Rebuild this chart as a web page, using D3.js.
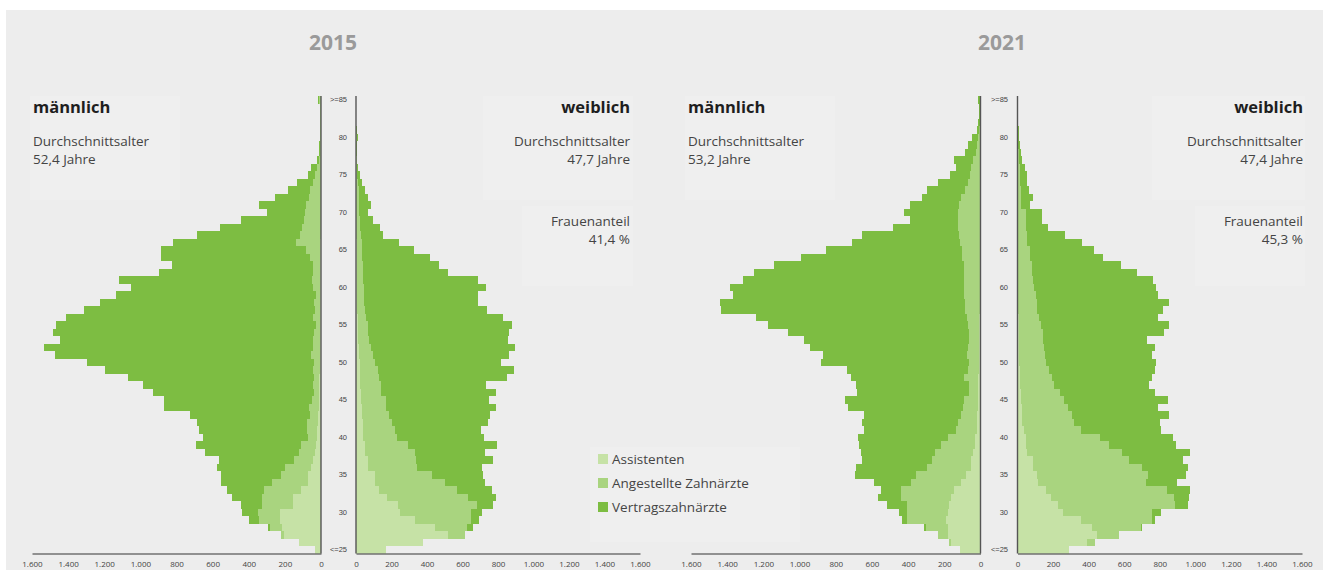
<!DOCTYPE html>
<html>
<head>
<meta charset="utf-8">
<script src="https://cdn.jsdelivr.net/npm/d3@7"></script>
<style>
  html, body { margin: 0; padding: 0; background: #ffffff; }
  svg { display: block; font-family: "Open Sans", "Noto Sans", sans-serif; }
</style>
</head>
<body>
<svg id="chart" width="1330" height="576"></svg>
<script>
// ---------- data ----------
const ages = d3.range(25, 86); // 25 = "<=25", 85 = ">=85"
const ageTickValues = [25, 30, 35, 40, 45, 50, 55, 60, 65, 70, 75, 80, 85];
const ageTickLabels = ["<=25", "30", "35", "40", "45", "50", "55", "60", "65", "70", "75", "80", ">=85"];
const xTickValues = [0, 200, 400, 600, 800, 1000, 1200, 1400, 1600];
const seriesNames = ["Assistenten", "Angestellte Zahnärzte", "Vertragszahnärzte"];
const years = ["2015", "2021"];

// 2015 männlich (ages 25..85)
const m2015Assistenten = [33,120,205,215,228,228,154,154,113,74, 74,56,46,33,30,22,20,18,15,13, 12,10,10,10,8,8,8,6,6,6, 5,5,4,4,4,4,3,3,3,3, 3,3,2,2,1,1,1,1,1,1, 0,0,0,0,0,0,0,0,0,0, 0];
const m2015Angestellte = [0,0,19,65,115,120,172,172,202,200, 150,143,102,87,80,52,59,58,46,56, 40,29,34,27,35,31,48,40,37,31, 23,39,29,35,26,39,45,40,43,58, 80,136,115,105,93,86,82,67,60,45, 33,20,10,7,6,4,3,3,3,3, 10];
const m2015Vertrag = [0,0,0,16,57,89,115,168,205,282, 328,375,417,524,584,580,599,609,667,798, 815,892,943,1033,1153,1254,1416,1487,1401,1446, 1437,1369,1278,1185,1105,1007,1069,852,779,824, 802,681,570,453,351,213,262,187,124,89, 37,35,10,6,5,3,3,2,2,2, 5];

// 2015 weiblich
const f2015Assistenten = [167,376,520,445,332,248,238,173,131,107, 107,69,69,51,51,41,37,37,32,32, 28,28,25,25,22,20,18,16,14,12, 10,9,8,7,6,5,5,4,4,3, 3,3,2,2,1,1,1,1,1,0, 0,0,0,0,0,0,0,0,0,0, 0];
const f2015Angestellte = [0,0,94,182,314,398,441,460,436,394, 319,272,268,282,244,188,182,163,156,137, 141,111,115,107,100,86,79,71,60,56, 58,47,43,38,39,40,36,37,37,29, 29,28,25,22,20,18,18,16,14,10, 8,5,3,2,2,3,1,1,1,1, 0];
const f2015Vertrag = [0,0,0,30,47,66,91,156,197,226, 288,371,433,394,497,494,485,542,567,618, 582,648,591,717,770,711,767,809,780,796, 813,774,685,640,644,685,644,475,427,385, 297,213,127,111,77,50,66,52,36,26, 14,8,5,2,2,6,2,1,1,1, 1];

// 2021 männlich
const m2021Assistenten = [116,162,180,180,193,180,175,162,147,110, 79,55,52,42,33,33,22,20,18,16, 15,14,13,12,10,10,9,8,8,7, 6,6,5,5,5,4,4,4,3,3, 3,3,2,2,2,2,1,1,1,1, 1,0,0,0,0,0,0,0,0,0, 0];
const m2021Angestellte = [0,13,55,120,212,225,230,280,291,276, 276,239,217,212,184,147,112,105,92,81, 77,52,52,77,57,53,66,63,55,55, 63,70,80,82,85,86,88,88,90,97, 102,112,118,120,123,120,116,108,84,69, 59,50,40,25,18,12,8,5,3,3, 0];
const m2021Vertrag = [0,0,1,13,30,43,112,125,114,200, 341,393,387,405,452,498,511,529,535,636, 659,616,622,629,670,821,796,874,915,1002, 1106,1167,1351,1355,1278,1297,1221,1160,1049,891, 748,594,534,362,262,303,270,217,210,166, 111,84,104,63,52,36,14,10,6,4, 15];

// 2021 weiblich
const f2021Assistenten = [287,393,449,421,356,257,225,187,159,118, 112,88,88,56,47,47,37,28,26,24, 22,20,15,13,12,11,10,9,8,8, 7,6,5,5,4,4,3,3,3,2, 2,2,2,1,1,1,1,1,0,0, 0,0,0,0,0,0,0,0,0,0, 0];
const f2021Angestellte = [0,43,122,272,399,502,661,693,683,607, 624,610,539,530,468,416,322,287,283,262, 240,219,191,180,163,148,144,139,137,133, 124,116,107,102,98,86,83,81,77,70, 68,54,53,49,46,46,20,20,18,15, 15,12,8,6,4,3,2,1,1,1, 1];
const f2021Vertrag = [0,0,0,6,17,47,75,84,127,174, 213,262,303,384,378,412,449,487,543,504, 586,537,534,566,599,622,605,625,586,684, 721,668,706,745,686,691,678,590,500,409, 361,305,213,119,93,93,48,67,44,41, 36,29,20,13,9,6,4,2,1,1, 3];

const avgAgeMale = ["52,4 Jahre", "53,2 Jahre"];
const avgAgeFemale = ["47,7 Jahre", "47,4 Jahre"];
const womenShare = ["41,4 %", "45,3 %"];

// ---------- layout ----------
const colors = ["#c6e2a6", "#a9d47f", "#7dbd42"];
const keys = ["a", "m", "v"];
const W = 1330, H = 576;
const yTop = 96, yBottom = 553.5;

const panels = [
  { year: years[0], mA: m2015Assistenten, mM: m2015Angestellte, mV: m2015Vertrag,
    fA: f2015Assistenten, fM: f2015Angestellte, fV: f2015Vertrag,
    mRange: [321, 32], fRange: [356, 640], titleX: 333, labelX: 347,
    textL: 33, textR: 630,
    avgM: avgAgeMale[0], avgF: avgAgeFemale[0], share: womenShare[0] },
  { year: years[1], mA: m2021Assistenten, mM: m2021Angestellte, mV: m2021Vertrag,
    fA: f2021Assistenten, fM: f2021Angestellte, fV: f2021Vertrag,
    mRange: [980.5, 691], fRange: [1017.5, 1302], titleX: 1002, labelX: 1008,
    textL: 688, textR: 1303,
    avgM: avgAgeMale[1], avgF: avgAgeFemale[1], share: womenShare[1] }
];

const fmt = d3.formatLocale({ decimal: ",", thousands: ".", grouping: [3], currency: ["", "€"] }).format(",");

const svg = d3.select("#chart");
svg.append("rect").attr("x", 0).attr("y", 0).attr("width", W).attr("height", H).attr("fill", "#ffffff");
svg.append("rect").attr("x", 6).attr("y", 10).attr("width", 1317).attr("height", 560).attr("fill", "#ededed");

// faint text boxes
const boxFill = "#efefef";
[[30, 96, 150, 104], [483, 96, 150, 104], [522, 206, 111, 80],
 [685, 96, 150, 104], [1152, 96, 153, 104], [1195, 206, 110, 80],
 [590, 447, 210, 95]].forEach(b => {
  svg.append("rect").attr("x", b[0]).attr("y", b[1]).attr("width", b[2]).attr("height", b[3]).attr("fill", boxFill);
});

const y = d3.scaleBand().domain(ages.slice().reverse()).range([yTop, yBottom]).paddingInner(0).paddingOuter(0);
const stack = d3.stack().keys(keys);

panels.forEach(p => {
  const g = svg.append("g");
  const xM = d3.scaleLinear().domain([0, 1600]).range(p.mRange);
  const xF = d3.scaleLinear().domain([0, 1600]).range(p.fRange);

  const rowsM = ages.map((a, i) => ({ age: a, a: p.mA[i], m: p.mM[i], v: p.mV[i] }));
  const rowsF = ages.map((a, i) => ({ age: a, a: p.fA[i], m: p.fM[i], v: p.fV[i] }));

  // title
  g.append("text").attr("x", p.titleX).attr("y", 50).attr("text-anchor", "middle")
    .attr("font-size", 21).attr("font-weight", 700).attr("fill", "#9a9a9a").text(p.year);

  // male bars
  stack(rowsM).forEach((layer, k) => {
    g.append("g").selectAll("rect").data(layer).join("rect")
      .attr("x", d => xM(d[1]))
      .attr("width", d => Math.max(0, xM(d[0]) - xM(d[1])))
      .attr("y", d => y(d.data.age))
      .attr("height", y.bandwidth())
      .attr("fill", colors[k])
      .attr("shape-rendering", "crispEdges");
  });
  // female bars
  stack(rowsF).forEach((layer, k) => {
    g.append("g").selectAll("rect").data(layer).join("rect")
      .attr("x", d => xF(d[0]))
      .attr("width", d => Math.max(0, xF(d[1]) - xF(d[0])))
      .attr("y", d => y(d.data.age))
      .attr("height", y.bandwidth())
      .attr("fill", colors[k])
      .attr("shape-rendering", "crispEdges");
  });

  // bottom axes
  [xM, xF].forEach(sc => {
    const ax = g.append("g").attr("transform", `translate(0,${yBottom})`)
      .call(d3.axisBottom(sc).tickValues(xTickValues).tickFormat(fmt).tickSize(0).tickSizeOuter(0).tickPadding(8));
    ax.select(".domain").attr("stroke", "#707070").attr("stroke-width", 1.6);
    ax.selectAll("text").attr("font-size", 8).attr("fill", "#444").attr("font-family", "'Open Sans', sans-serif");
  });

  // vertical zero lines
  [xM(0), xF(0)].forEach(xx => {
    g.append("line").attr("x1", xx).attr("x2", xx).attr("y1", yTop).attr("y2", yBottom)
      .attr("stroke", "#555").attr("stroke-width", 1.4);
  });

  // age labels
  const ageAxis = g.append("g").attr("transform", `translate(${p.labelX},0)`)
    .call(d3.axisLeft(y).tickValues(ageTickValues)
      .tickFormat(d => ageTickLabels[ageTickValues.indexOf(d)]).tickSize(0).tickPadding(0));
  ageAxis.select(".domain").remove();
  ageAxis.selectAll("text").attr("font-size", 7.5).attr("fill", "#444");

  // texts male
  const mx = p.textL;
  g.append("text").attr("x", mx).attr("y", 113).attr("font-size", 16.5).attr("font-weight", 700).attr("fill", "#1e1e1e").text("männlich");
  g.append("text").attr("x", mx).attr("y", 146).attr("font-size", 13.5).attr("fill", "#444").text("Durchschnittsalter");
  g.append("text").attr("x", mx).attr("y", 164).attr("font-size", 13.5).attr("fill", "#444").text(p.avgM);
  // texts female
  const fx = p.textR;
  g.append("text").attr("x", fx).attr("y", 113).attr("text-anchor", "end").attr("font-size", 16.5).attr("font-weight", 700).attr("fill", "#1e1e1e").text("weiblich");
  g.append("text").attr("x", fx).attr("y", 146).attr("text-anchor", "end").attr("font-size", 13.5).attr("fill", "#444").text("Durchschnittsalter");
  g.append("text").attr("x", fx).attr("y", 164).attr("text-anchor", "end").attr("font-size", 13.5).attr("fill", "#444").text(p.avgF);
  g.append("text").attr("x", fx).attr("y", 226).attr("text-anchor", "end").attr("font-size", 13.5).attr("fill", "#444").text("Frauenanteil");
  g.append("text").attr("x", fx).attr("y", 244).attr("text-anchor", "end").attr("font-size", 13.5).attr("fill", "#444").text(p.share);
});

// legend
const legend = svg.append("g").attr("transform", "translate(598,453)");
seriesNames.forEach((name, i) => {
  legend.append("rect").attr("x", 0).attr("y", i * 24 + 1).attr("width", 10).attr("height", 10).attr("fill", colors[i]);
  legend.append("text").attr("x", 14).attr("y", i * 24 + 11).attr("font-size", 13.5).attr("fill", "#444").text(name);
});
</script>
</body>
</html>
